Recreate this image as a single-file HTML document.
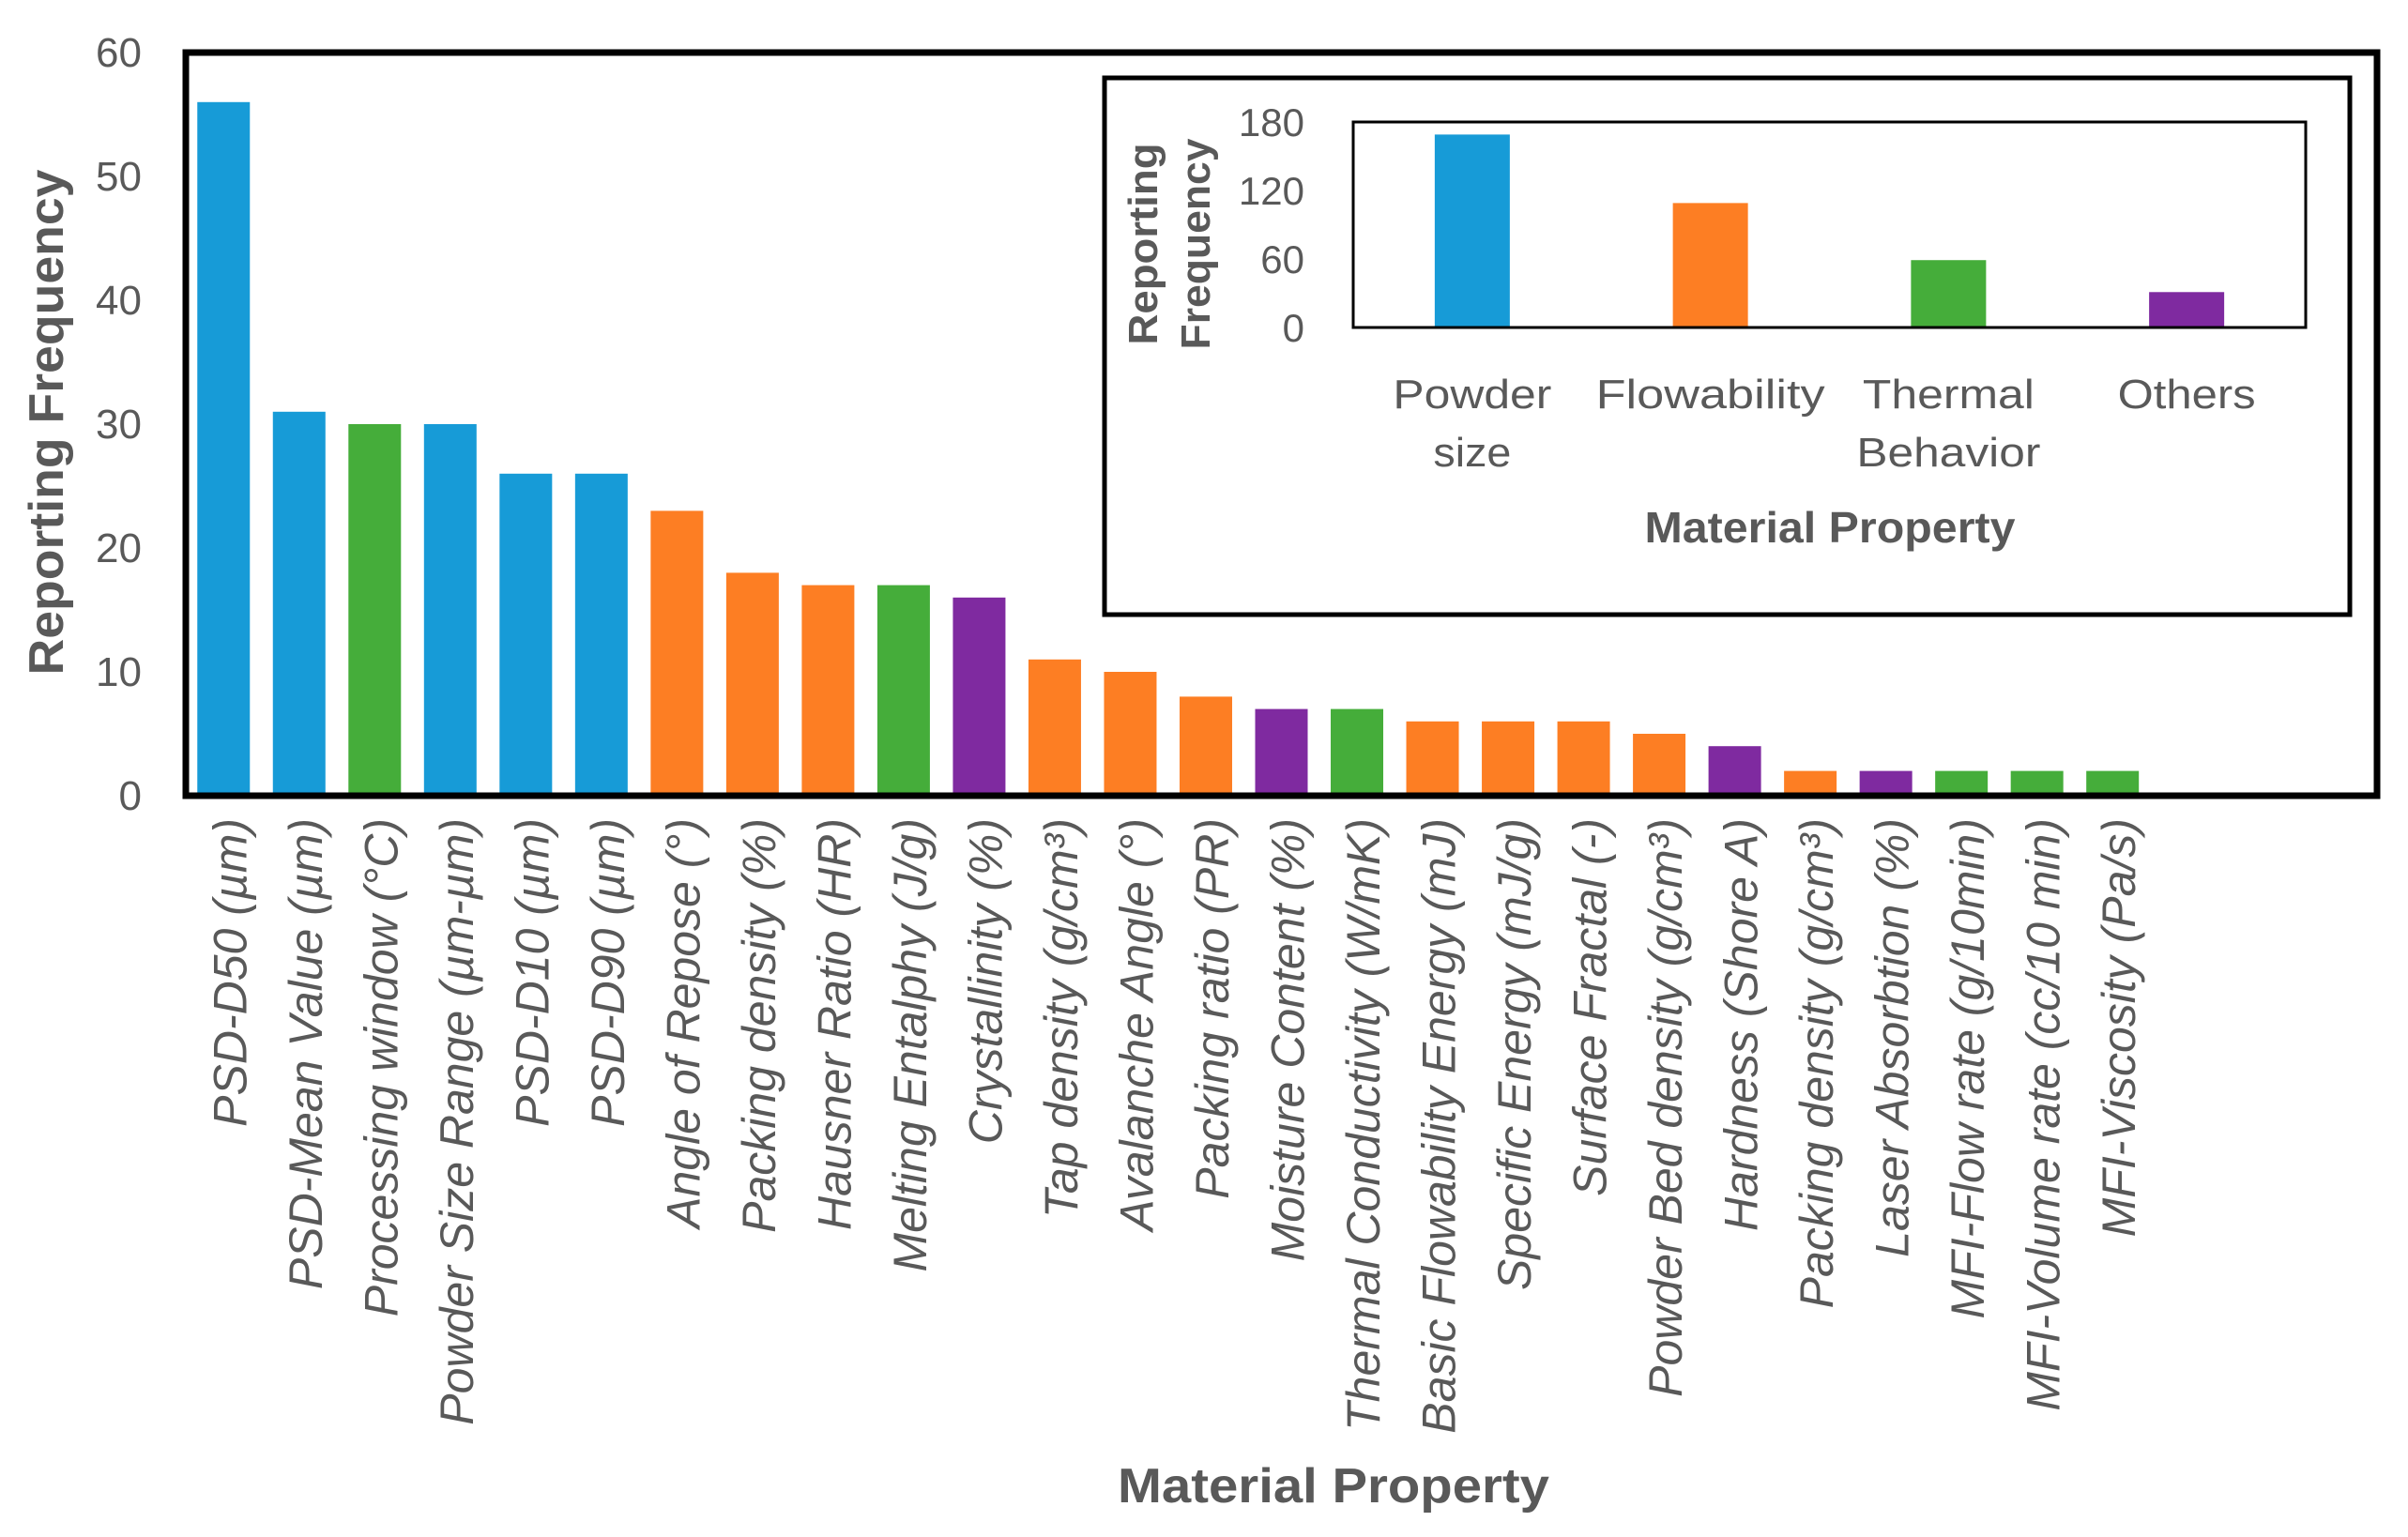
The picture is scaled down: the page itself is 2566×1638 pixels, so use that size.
<!DOCTYPE html>
<html><head><meta charset="utf-8">
<style>
html,body{margin:0;padding:0;background:#fff;}
svg{display:block;}
text{font-family:"Liberation Sans",sans-serif;fill:#595959;}
</style></head>
<body>
<svg id="chart" width="2566" height="1638" viewBox="0 0 2566 1638" xmlns="http://www.w3.org/2000/svg">
<rect x="0" y="0" width="2566" height="1638" fill="#fff"/>
<g id="main-bars"></g>
<g id="main-xlabels"></g>
<g id="main-yticks"></g>
<rect x="198" y="56" width="2335" height="792" fill="none" stroke="#000" stroke-width="7"/>
<text transform="translate(67,450) rotate(-90)" text-anchor="middle" font-size="52" font-weight="bold" textLength="539" lengthAdjust="spacingAndGlyphs">Reporting Frequency</text>
<text x="1421" y="1601" text-anchor="middle" font-size="52" font-weight="bold" textLength="460" lengthAdjust="spacingAndGlyphs">Material Property</text>

<rect x="1177" y="83" width="1327" height="572" fill="#fff" stroke="#000" stroke-width="5"/>
<g id="inset-bars"></g>
<g id="inset-yticks"></g>
<g id="inset-xlabels"></g>
<rect x="1442" y="130" width="1015" height="219" fill="none" stroke="#000" stroke-width="3"/>
<text transform="translate(1233,260) rotate(-90)" text-anchor="middle" font-size="44" font-weight="bold" textLength="215" lengthAdjust="spacingAndGlyphs">Reporting</text>
<text transform="translate(1289,260) rotate(-90)" text-anchor="middle" font-size="44" font-weight="bold" textLength="225" lengthAdjust="spacingAndGlyphs">Frequency</text>
<text x="1950" y="578" text-anchor="middle" font-size="46" font-weight="bold" textLength="395" lengthAdjust="spacingAndGlyphs">Material Property</text>
</svg>
<script>
const categories = ["PSD-D50 (µm)","PSD-Mean Value (µm)","Processing window (°C)","Powder Size Range (µm-µm)","PSD-D10 (µm)","PSD-D90 (µm)","Angle of Repose (°)","Packing density (%)","Hausner Ratio (HR)","Melting Entalphy (J/g)","Crystallinity (%)","Tap density (g/cm³)","Avalanche Angle (°)","Packing ratio (PR)","Moisture Content (%)","Thermal Conductivity (W/mK)","Basic Flowability Energy (mJ)","Specific Energy (mJ/g)","Surface Fractal (-)","Powder Bed density (g/cm³)","Hardness (Shore A)","Packing density (g/cm³)","Laser Absorbtion (%)","MFI-Flow rate (g/10min)","MFI-Volume rate (cc/10 min)","MFI-Viscosity (Pa/s)"];
const values = [56,31,30,30,26,26,23,18,17,17,16,11,10,8,7,7,6,6,6,5,4,2,2,2,2,2];
const groups = ["size","size","thermal","size","size","size","flow","flow","flow","thermal","other","flow","flow","flow","other","thermal","flow","flow","flow","flow","other","flow","other","thermal","thermal","thermal"];
const yTicks = [0,10,20,30,40,50,60];
const insetCategories = [["Powder","size"],["Flowability"],["Thermal","Behavior"],["Others"]];
const insetValues = [169,109,59,31];
const insetGroups = ["size","flow","thermal","other"];
const insetTicks = [0,60,120,180];

const colors = {size:"#179BD7",flow:"#FD7E23",thermal:"#45AD3A",other:"#7F2AA0"};
const NS = "http://www.w3.org/2000/svg";
function mk(tag, attrs, parent){const e=document.createElementNS(NS,tag);for(const k in attrs)e.setAttribute(k,attrs[k]);parent.appendChild(e);return e;}

const M = {left:198,right:2533,top:56,bottom:848,nBands:29,yMax:60};
const bandW = (M.right-M.left)/M.nBands;
function xMain(i){return M.left + bandW*(i+0.5);}
function yMain(v){return M.bottom - (v/M.yMax)*(M.bottom-M.top);}

const gb = document.getElementById('main-bars');
const gx = document.getElementById('main-xlabels');
const gy = document.getElementById('main-yticks');
values.forEach((v,i)=>{
  const r = mk('rect',{x:xMain(i)-28,y:yMain(v),width:56,height:yMain(0)-yMain(v),fill:colors[groups[i]]},gb);
  
  
  const t = mk('text',{transform:`translate(${xMain(i)+24},872) rotate(-90)`,'text-anchor':'end','font-size':50,'font-style':'italic'},gx);
  t.textContent = categories[i];
  
  
});
yTicks.forEach(v=>{
  const t = mk('text',{x:151,y:yMain(v)+15,'text-anchor':'end','font-size':44},gy);
  t.textContent = v;
  
  
});

const I = {left:1442,right:2457,top:130,bottom:349,yMax:180};
const iBand = (I.right-I.left)/insetValues.length;
function xIn(i){return I.left + iBand*(i+0.5);}
function yIn(v){return I.bottom - (v/I.yMax)*(I.bottom-I.top);}
const ib = document.getElementById('inset-bars');
const iy = document.getElementById('inset-yticks');
const ix = document.getElementById('inset-xlabels');
const insetWidths = [[169,83],[244],[183,196],[147]];
insetValues.forEach((v,i)=>{
  const r = mk('rect',{x:xIn(i)-40,y:yIn(v),width:80,height:yIn(0)-yIn(v),fill:colors[insetGroups[i]]},ib);
  
  
  insetCategories[i].forEach((line,j)=>{
    const t = mk('text',{x:xIn(i),y:435+j*62,'text-anchor':'middle','font-size':44,textLength:insetWidths[i][j],lengthAdjust:'spacingAndGlyphs'},ix);
    t.textContent = line;
    
    
  });
});
insetTicks.forEach(v=>{
  const t = mk('text',{x:1390,y:yIn(v)+15,'text-anchor':'end','font-size':42},iy);
  t.textContent = v;
  
  
});
</script>
</body></html>
